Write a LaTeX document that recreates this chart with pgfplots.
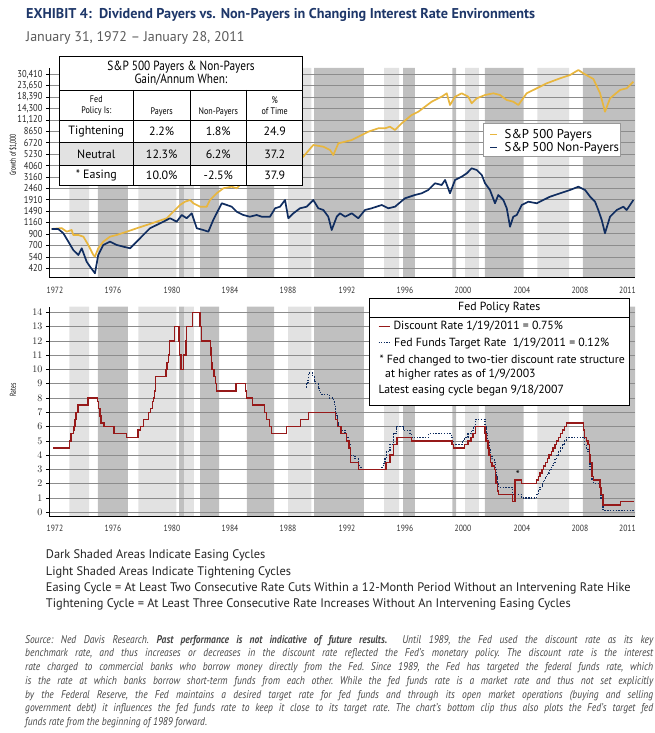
\documentclass[border=0pt]{standalone}
\usepackage{fontspec}
\setmainfont{PT Sans}
\newfontfamily\cond[FakeStretch=0.85]{PT Sans}
\newfontfamily\vcond[FakeStretch=0.65]{PT Sans}
\usepackage{pgfplots}
\usepackage{pgfplotstable}
\pgfplotsset{compat=1.18}
\definecolor{gold}{RGB}{232,182,62}
\definecolor{navy}{RGB}{16,45,96}
\definecolor{dred}{RGB}{150,25,25}
\definecolor{lshade}{RGB}{226,226,226}
\definecolor{dshade}{RGB}{192,192,192}
\definecolor{gridc}{RGB}{140,140,140}
\definecolor{titlec}{RGB}{30,55,105}
\definecolor{subc}{RGB}{90,90,90}
\definecolor{notec}{RGB}{35,35,35}
\definecolor{srcc}{RGB}{70,70,70}
\definecolor{tabfill}{RGB}{226,226,226}

\pgfplotstableread{
year value
1971.86 1000
1972.53 1020
1972.87 942
1973.20 978
1973.31 876
1973.65 876
1973.99 844
1974.32 703
1974.66 563
1974.77 543
1974.99 653
1975.33 756
1975.78 844
1976.23 876
1976.91 942
1977.58 1016
1978.25 1092
1978.92 1175
1979.60 1267
1980.04 1465
1980.49 1699
1980.83 1827
1981.17 1897
1981.39 1764
1981.84 1636
1982.29 1636
1982.51 1897
1982.96 2200
1983.41 2457
1983.97 2545
1984.31 2457
1984.53 2642
1985.30 2900
1986.20 3700
1987.60 4900
1987.82 3800
1988.30 4300
1988.79 4935
1989.46 6389
1990.14 6153
1990.59 5720
1990.81 5124
1991.15 6635
1991.60 6871
1992.05 7135
1992.72 7967
1993.16 8571
1993.84 9240
1994.29 9240
1994.62 9571
1994.96 8896
1995.41 10316
1996.08 12390
1996.53 13327
1996.98 14886
1997.43 16620
1997.65 17253
1998.10 18553
1998.44 20010
1998.66 15453
1999.00 18553
1999.45 20010
1999.89 18553
2000.12 16043
2000.46 17910
2001.02 19270
2001.58 20010
2002.03 19270
2002.48 17253
2002.92 16620
2003.26 15453
2003.82 20010
2004.50 22340
2005.17 24950
2006.07 27860
2006.74 29970
2007.30 33470
2007.63 31110
2008.31 27430
2008.76 20010
2009.09 13327
2009.43 17910
2010.10 21520
2010.55 22340
2011.00 25840
}\payers

\pgfplotstableread{
year value
1971.86 1000
1972.30 1000
1972.64 910
1972.98 756
1973.31 629
1973.65 563
1973.88 653
1974.21 486
1974.44 435
1974.77 376
1974.99 563
1975.33 703
1975.78 756
1976.23 703
1976.68 677
1977.13 653
1977.58 756
1978.02 876
1978.47 1016
1978.92 1092
1979.37 1175
1979.82 1267
1980.27 1175
1980.61 1362
1980.94 1267
1981.28 1414
1981.62 1016
1982.06 978
1982.40 942
1982.73 1220
1983.30 1764
1983.64 1699
1983.97 1636
1984.31 1465
1984.75 1362
1985.20 1312
1985.65 1362
1985.99 1312
1986.55 1312
1986.89 1580
1987.22 1636
1987.56 1897
1987.78 1267
1988.12 1414
1988.57 1580
1989.02 1636
1989.46 1897
1989.80 1580
1990.14 1521
1990.47 1312
1990.70 978
1991.04 1312
1991.26 1414
1991.60 1312
1992.05 1414
1992.49 1267
1992.94 1521
1993.39 1580
1994.07 1699
1994.51 1580
1994.96 1636
1995.63 1970
1996.30 2118
1996.76 2200
1997.20 2366
1997.65 2743
1998.10 2642
1998.33 2950
1998.66 2200
1999.00 2950
1999.45 3174
1999.79 3420
2000.12 3820
2000.46 3680
2000.80 3293
2001.02 2743
2001.35 2366
2001.69 1764
2001.91 2118
2002.25 1897
2002.48 1580
2002.70 1052
2002.92 1312
2003.15 1362
2003.49 1699
2003.93 1827
2004.50 1764
2004.94 1897
2005.39 2040
2006.07 2200
2006.74 2366
2007.30 2545
2007.75 2366
2008.09 2040
2008.42 1827
2008.64 1521
2008.87 1220
2009.09 910
2009.43 1312
2009.88 1521
2010.32 1636
2010.55 1521
2011.00 1897
}\nonpayers

\pgfplotstableread{
year rate
1971.97 4.5
1973.04 5.0
1973.15 5.5
1973.34 5.75
1973.36 6.0
1973.44 6.5
1973.50 7.0
1973.62 7.5
1974.31 8.0
1974.94 7.75
1975.01 7.25
1975.10 6.75
1975.19 6.25
1975.37 6.0
1976.05 5.5
1976.89 5.25
1977.66 5.75
1977.82 6.0
1978.02 6.5
1978.36 7.0
1978.50 7.25
1978.64 7.75
1978.72 8.0
1978.79 8.5
1978.83 9.5
1979.55 10.0
1979.63 10.5
1979.72 11.0
1979.77 12.0
1980.12 13.0
1980.41 12.0
1980.45 11.0
1980.57 10.0
1980.74 11.0
1980.88 12.0
1980.93 13.0
1981.34 14.0
1981.84 13.0
1981.93 12.0
1982.55 11.5
1982.58 11.0
1982.62 10.5
1982.65 10.0
1982.78 9.5
1982.89 9.0
1982.96 8.5
1984.27 9.0
1984.89 8.5
1984.98 8.0
1985.38 7.5
1986.18 7.0
1986.30 6.5
1986.52 6.0
1986.64 5.5
1987.67 6.0
1988.60 6.5
1989.15 7.0
1990.97 6.5
1991.08 6.0
1991.33 5.5
1991.70 5.0
1991.85 4.5
1991.97 3.5
1992.50 3.0
1994.37 3.5
1994.62 4.0
1994.87 4.75
1995.08 5.25
1996.08 5.0
1998.79 4.75
1998.88 4.5
1999.64 4.75
1999.87 5.0
2000.09 5.25
2000.22 5.5
2000.37 6.0
2001.01 5.5
2001.08 5.0
2001.21 4.5
2001.29 4.0
2001.37 3.5
2001.49 3.25
2001.64 3.0
2001.71 2.5
2001.75 2.0
2001.85 1.5
2001.94 1.25
2002.85 0.75
2003.02 2.25
2003.48 2.0
2004.49 2.25
2004.61 2.5
2004.72 2.75
2004.86 3.0
2004.95 3.25
2005.09 3.5
2005.22 3.75
2005.33 4.0
2005.49 4.25
2005.60 4.5
2005.72 4.75
2005.83 5.0
2005.95 5.25
2006.08 5.5
2006.24 5.75
2006.36 6.0
2006.49 6.25
2007.63 5.75
2007.71 5.25
2007.83 5.0
2007.94 4.75
2008.06 4.0
2008.08 3.5
2008.21 2.5
2008.33 2.25
2008.77 1.75
2008.82 1.25
2008.96 0.5
2010.13 0.75
2011.07 0.75
}\discount

\pgfplotstableread{
year rate
1989.00 8.75
1989.01 9.0
1989.11 9.25
1989.15 9.75
1989.43 9.5
1989.52 9.25
1989.57 9.0
1989.80 8.75
1989.85 8.5
1989.97 8.25
1990.53 8.0
1990.82 7.75
1990.87 7.5
1990.93 7.25
1990.97 7.0
1991.02 6.75
1991.08 6.25
1991.18 6.0
1991.33 5.75
1991.60 5.5
1991.70 5.25
1991.83 5.0
1991.85 4.75
1991.93 4.5
1991.97 4.0
1992.27 3.75
1992.50 3.25
1992.67 3.0
1994.09 3.25
1994.22 3.5
1994.29 3.75
1994.37 4.25
1994.62 4.75
1994.87 5.5
1995.08 6.0
1995.51 5.75
1995.97 5.5
1996.08 5.25
1997.23 5.5
1998.74 5.25
1998.79 5.0
1998.88 4.75
1999.49 5.0
1999.64 5.25
1999.87 5.5
2000.09 5.75
2000.22 6.0
2000.37 6.5
2001.01 6.0
2001.08 5.5
2001.21 5.0
2001.29 4.5
2001.37 4.0
2001.49 3.75
2001.64 3.5
2001.71 3.0
2001.75 2.5
2001.85 2.0
2001.94 1.75
2002.85 1.25
2003.48 1.0
2004.49 1.25
2004.61 1.5
2004.72 1.75
2004.86 2.0
2004.95 2.25
2005.09 2.5
2005.22 2.75
2005.33 3.0
2005.49 3.25
2005.60 3.5
2005.72 3.75
2005.83 4.0
2005.95 4.25
2006.08 4.5
2006.24 4.75
2006.36 5.0
2006.49 5.25
2007.71 4.75
2007.83 4.5
2007.94 4.25
2008.06 3.5
2008.08 3.0
2008.21 2.25
2008.33 2.0
2008.77 1.5
2008.82 1.0
2008.96 0.125
2011.07 0.125
}\fedfunds

\newcommand\band[3]{\addplot[draw=none,fill=#1] coordinates {(#2,0) (#2,1) (#3,1) (#3,0)} \closedcycle;}
\newcommand\allbands{%
\band{lshade}{1973.04}{1974.37}
\band{dshade}{1974.97}{1976.99}
\band{lshade}{1977.69}{1980.24}
\band{dshade}{1980.43}{1980.77}
\band{lshade}{1980.77}{1981.43}
\band{dshade}{1981.84}{1983.12}
\band{dshade}{1985.00}{1986.82}
\band{lshade}{1987.76}{1989.33}
\band{dshade}{1989.51}{1992.86}
\band{lshade}{1994.22}{1995.23}
\band{dshade}{1995.50}{1996.29}
\band{dshade}{1998.82}{1999.07}
\band{lshade}{1999.67}{2000.61}
\band{dshade}{2001.01}{2003.62}
\band{lshade}{2004.54}{2006.67}
\band{dshade}{2007.61}{2011.11}}

\pgfplotsset{
  geom/.style={scale only axis, width=586pt, anchor=south west, xmin=1971.677, xmax=2011.11},
  bands/.style={geom, hide axis, ymin=0, ymax=1, clip=true},
  common/.style={
    geom,
    axis x line*=bottom, axis y line*=left,
    axis line style={black, line width=0.8pt},
    ymajorgrids, grid style={gridc, line width=0.6pt},
    yminorticks=false,
    tick align=outside, major tick length=3pt,
    ytick style={black, line width=0.5pt},
    xtick style={draw=none},
    xtick={1972.08,1975.98,1979.95,1983.86,1987.76,1991.73,1995.63,1999.53,2003.5,2007.4,2010.6},
    xticklabels={1972,1976,1980,1984,1988,1992,1996,2000,2004,2008,2011},
    xticklabel style={font=\cond\fontsize{9}{9}\selectfont, text=black!80},
    yticklabel style={font=\cond\fontsize{10}{10}\selectfont, text=black!85},
    ylabel style={font=\vcond\fontsize{8.5}{8.5}\selectfont},
  }
}

\begin{document}
\begin{tikzpicture}[x=1pt,y=1pt]
\useasboundingbox (0pt,0pt) rectangle (655pt,733pt);

% ---------------- top chart ----------------
\begin{axis}[bands, at={(49pt,456pt)}, height=209pt]
\allbands
\end{axis}
\begin{axis}[common, at={(49pt,456pt)}, height=209pt,
  ymode=log, ymin=346.5, ymax=34990,
  ytick={420,540,700,900,1160,1490,1910,2460,3160,4060,5230,6720,8650,11120,14300,18390,23650,30410},
  yticklabels={420,540,700,900,1160,1490,1910,2460,3160,4060,5230,6720,8650,{11,120},{14,300},{18,390},{23,650},{30,410}},
  xticklabel style={yshift=-3.5pt},
  ylabel={Growth of \$1,000},
  ylabel style={at={(axis description cs:-0.0614,0.584)}, anchor=center},
]
\addplot[gold, line width=1.7pt, line join=round] table[x=year,y=value] {\payers};
\addplot[navy, line width=1.7pt, line join=round] table[x=year,y=value] {\nonpayers};
\end{axis}

% ---------------- bottom chart ----------------
\begin{axis}[bands, at={(49pt,216.3pt)}, height=210pt]
\allbands
\end{axis}
\begin{axis}[common, at={(49pt,216.3pt)}, height=210pt,
  ymin=-0.31, ymax=14.39,
  ytick={0,1,...,14},
  xticklabel style={yshift=-1.5pt},
  ylabel={Rates},
  ylabel style={at={(axis description cs:-0.0614,0.603)}, anchor=center},
]
\addplot[navy, line width=1.2pt, dash pattern=on 1.4pt off 1.4pt, const plot] table[x=year,y=rate] {\fedfunds};
\addplot[dred, line width=1.5pt, const plot] table[x=year,y=rate] {\discount};
\node[font=\fontsize{11}{11}\selectfont] at (axis cs:2003.22,2.65) {*};
\end{axis}

% ---------------- top legend ----------------
\draw[fill=white, draw=gray!80, line width=0.6pt] (483.3pt,576.3pt) rectangle (620.7pt,609.7pt);
\draw[gold, line width=1.5pt] (490pt,598.7pt) -- (497pt,598.7pt);
\draw[navy, line width=1.5pt] (490pt,585.3pt) -- (497pt,585.3pt);
\node[anchor=base west, inner sep=0, font=\fontsize{12.8}{13}\selectfont] at (504.5pt,594.7pt) {S\&P 500 Payers};
\node[anchor=base west, inner sep=0, font=\fontsize{12.8}{13}\selectfont] at (504.5pt,581.3pt) {S\&P 500 Non-Payers};

% ---------------- table ----------------
\begin{scope}[line width=0.8pt]
\fill[white] (59.3pt,548pt) rectangle (302.7pt,677pt);
\fill[tabfill] (59.3pt,568pt) rectangle (302.7pt,590.7pt);
\draw (59.3pt,643pt) -- (302.7pt,643pt);
\draw (59.3pt,613pt) -- (302.7pt,613pt);
\draw (59.3pt,590.7pt) -- (302.7pt,590.7pt);
\draw (59.3pt,568pt) -- (302.7pt,568pt);
\draw (133.3pt,643pt) -- (133.3pt,548pt);
\draw (190pt,643pt) -- (190pt,548pt);
\draw (246.7pt,643pt) -- (246.7pt,548pt);
\draw (59.3pt,548pt) rectangle (302.7pt,677pt);
\end{scope}
\node[align=center, font=\cond\fontsize{13.3}{12.7}\selectfont] at (181pt,659.5pt) {S\&P 500 Payers \& Non-Payers\\Gain/Annum When:};
\node[align=center, font=\cond\fontsize{9.5}{11.7}\selectfont] at (96.3pt,627.2pt) {Fed\\Policy Is:};
\node[font=\cond\fontsize{9.5}{11.7}\selectfont] at (161.7pt,621.3pt) {Payers};
\node[font=\cond\fontsize{9.5}{11.7}\selectfont] at (218.3pt,621.3pt) {Non-Payers};
\node[align=center, font=\cond\fontsize{9.5}{11.7}\selectfont] at (274.7pt,627.2pt) {\%\\of Time};
\begin{scope}[every node/.style={font=\fontsize{12}{12}\selectfont}]
\node at (96.3pt,601.3pt) {Tightening};
\node at (161.7pt,601.3pt) {2.2\%};
\node at (218.3pt,601.3pt) {1.8\%};
\node at (274.7pt,601.3pt) {24.9};
\node at (96.3pt,579pt) {Neutral};
\node at (161.7pt,579pt) {12.3\%};
\node at (218.3pt,579pt) {6.2\%};
\node at (274.7pt,579pt) {37.2};
\node at (96.3pt,558pt) {* Easing};
\node at (161.7pt,558pt) {10.0\%};
\node at (218.3pt,558pt) {-2.5\%};
\node at (274.7pt,558pt) {37.9};
\end{scope}

% ---------------- bottom legend ----------------
\draw[fill=white, line width=0.8pt] (369.3pt,327.3pt) rectangle (629.3pt,434.7pt);
\draw[line width=0.8pt] (369.3pt,415.3pt) -- (629.3pt,415.3pt);
\begin{scope}[every node/.style={anchor=base west, inner sep=0, font=\fontsize{11.8}{12}\selectfont}]
\node[anchor=center] at (499.3pt,425.3pt) {Fed Policy Rates};
\node at (393.3pt,403pt) {Discount Rate 1/19/2011 = 0.75\%};
\node at (394pt,386.3pt) {Fed Funds Target Rate\ \ 1/19/2011 = 0.12\%};
\node at (379.3pt,369.6pt) {* Fed changed to two-tier discount rate structure};
\node at (385pt,355.2pt) {at higher rates as of 1/9/2003};
\node at (378.3pt,339.3pt) {Latest easing cycle began 9/18/2007};
\end{scope}
\draw[dred, line width=1.3pt] (378.5pt,406.8pt) -- (390pt,406.8pt);
\draw[navy, line width=1.1pt, dash pattern=on 1.2pt off 1.4pt] (378.5pt,390.2pt) -- (391pt,390.2pt);

% ---------------- titles ----------------
\node[anchor=base west, inner sep=0, text=titlec, font=\bfseries\fontsize{14.2}{16}\selectfont] at (26pt,714.7pt) {EXHIBIT 4:\ \ Dividend Payers vs. Non-Payers in Changing Interest Rate Environments};
\node[anchor=base west, inner sep=0, text=subc, font=\fontsize{14}{16}\selectfont] at (26pt,691.3pt) {January 31, 1972 -- January 28, 2011};

% ---------------- notes ----------------
\begin{scope}[every node/.style={anchor=base west, inner sep=0, text=notec, font=\fontsize{12.4}{14}\selectfont}]
\node at (45.7pt,174pt) {Dark Shaded Areas Indicate Easing Cycles};
\node at (45.7pt,157.5pt) {Light Shaded Areas Indicate Tightening Cycles};
\node at (45.7pt,141.2pt) {Easing Cycle = At Least Two Consecutive Rate Cuts Within a 12-Month Period Without an Intervening Rate Hike};
\node at (45.7pt,125.7pt) {Tightening Cycle = At Least Three Consecutive Rate Increases Without An Intervening Easing Cycles};
\end{scope}

\node[anchor=base west, inner sep=0, text=srcc] at (25pt,89.7pt) {\begin{minipage}[t]{628pt}\frenchspacing\cond\itshape\fontsize{11.2}{13.7}\selectfont
Source: Ned Davis Research. \textbf{Past performance is not indicative of future results.}\ \ Until 1989, the Fed used the discount rate as its key\linebreak
benchmark rate, and thus increases or decreases in the discount rate reflected the Fed’s monetary policy. The discount rate is the interest\linebreak
rate charged to commercial banks who borrow money directly from the Fed. Since 1989, the Fed has targeted the federal funds rate, which\linebreak
is the rate at which banks borrow short-term funds from each other. While the fed funds rate is a market rate and thus not set explicitly\linebreak
by the Federal Reserve, the Fed maintains a desired target rate for fed funds and through its open market operations (buying and selling\linebreak
government debt) it influences the fed funds rate to keep it close to its target rate. The chart’s bottom clip thus also plots the Fed’s target fed\linebreak
funds rate from the beginning of 1989 forward.
\end{minipage}};
\end{tikzpicture}
\end{document}
